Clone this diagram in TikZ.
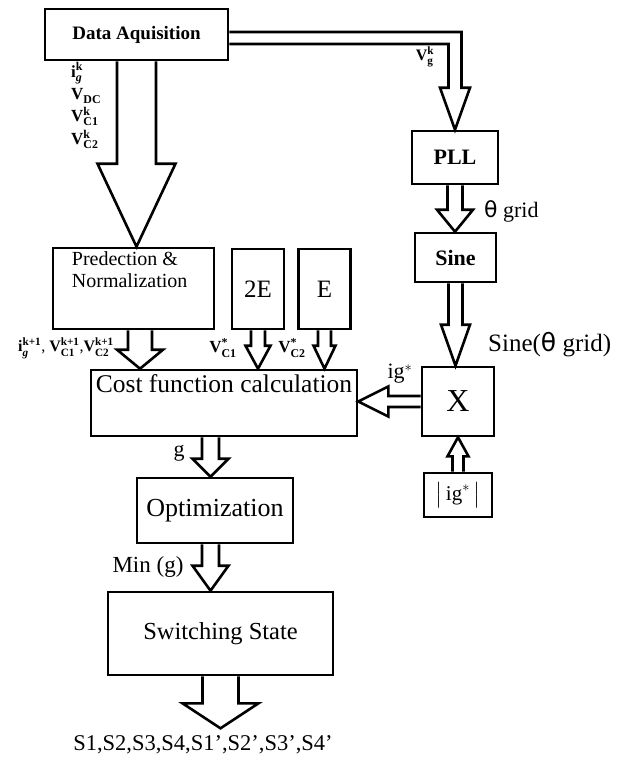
\documentclass[tikz,border=0pt]{standalone}
\usepackage{amsmath}
\usepackage{fontspec}
\setmainfont{Liberation Serif}
\newfontfamily\thetafont{DejaVu Sans}
\usetikzlibrary{calc}

% hollow block arrow: start, tip, half shaft, half head, head length
\newcommand{\hollowarrow}[5]{%
  \coordinate (hb) at ($(#2)!#5!(#1)$);
  \draw[blockarrow] ($(#1)!#3!90:(#2)$) -- ($(hb)!#3!90:(#2)$) -- ($(hb)!#4!90:(#2)$)
    -- (#2) -- ($(hb)!#4!-90:(#2)$) -- ($(hb)!#3!-90:(#2)$) -- ($(#1)!#3!-90:(#2)$);
}
\newcommand{\sig}[3]{$\textbf{#1}_{\textbf{#2}}^{\textbf{#3}}$}

\begin{document}
\begin{tikzpicture}[x=1pt,y=-1pt,
  box/.style={draw,line width=2.6pt,inner sep=0pt},
  blockarrow/.style={draw,line width=2.6pt,line join=miter},
  tag/.style={inner sep=0pt}]
\useasboundingbox (0,0) rectangle (635,763);

% blocks
\node[box,minimum width=183pt,minimum height=51pt,font=\bfseries\fontsize{19}{21}\selectfont] (acq) at (136.5,34.5) {Data Aquisition};
\node[box,minimum width=161pt,minimum height=81pt,
  label={[tag,anchor=north west,align=left,xshift=20pt,yshift=-5pt,font=\fontsize{20}{22}\selectfont]north west:{Predection \&\\Normalization}}] (pred) at (133.5,288.5) {};
\foreach \n/\x/\lab in {twoE/258/2E,oneE/324.5/E}
  \node[box,minimum width=52pt,minimum height=80pt,font=\fontsize{25}{27}\selectfont] (\n) at (\x,289) {\lab};
\node[box,minimum width=266pt,minimum height=66pt,
  label={[tag,anchor=base,yshift=-24pt,font=\fontsize{25.5}{28}\selectfont]north:{Cost function calculation}}] (cost) at (224,403) {};
\node[box,minimum width=156pt,minimum height=65pt,font=\fontsize{26}{28}\selectfont] (opt) at (215,510.5) {Optimization};
\node[box,minimum width=225pt,minimum height=83pt,font=\fontsize{24.5}{27}\selectfont] (sw) at (220.5,633.5) {Switching State};
\node[tag,font=\fontsize{22.5}{25}\selectfont] (out) at (203,745) {S1,S2,S3,S4,S1',S2',S3',S4'};

\node[box,minimum width=86pt,minimum height=53pt,font=\bfseries\fontsize{22}{24}\selectfont] (pll) at (455,157.5) {PLL};
\node[box,minimum width=81pt,minimum height=49pt,font=\bfseries\fontsize{22}{24}\selectfont] (sine) at (455.5,257.5) {Sine};
\node[box,minimum width=72pt,minimum height=69pt,font=\fontsize{32}{34}\selectfont] (mult) at (458,401.5) {X};
\node[box,minimum width=68pt,minimum height=44pt,font=\fontsize{21}{23}\selectfont] (absig) at (458,495) {$\bigl|\,\mathrm{ig}^{*}\,\bigr|$};

% signal names
\node[tag,anchor=north west,align=left,font=\fontsize{17}{22}\selectfont] (acqout) at (71,62)
  {\sig{i}{\textit{g}}{k}\\\sig{V}{DC}{}\\\sig{V}{C1}{k}\\[1pt]\sig{V}{C2}{k}};
\node[tag,font=\fontsize{16}{18}\selectfont] (vg) at (425,57) {\sig{V}{g}{k}};
\node[tag,anchor=west,font=\fontsize{22}{24}\selectfont] (thgrid) at (484,211) {{\thetafont θ} grid};
\node[tag,anchor=west,font=\fontsize{25}{27}\selectfont] (sinelbl) at (488,345) {Sine({\thetafont θ} grid)};
\node[tag,font=\fontsize{22}{24}\selectfont] (iglbl) at (400,374) {ig$^{*}$};
\node[tag,anchor=east,font=\fontsize{16}{18}\selectfont] (predout) at (114,348)
  {\sig{i}{\textit{g}}{k+1}, \sig{V}{C1}{k+1},\sig{V}{C2}{k+1}};
\node[tag,font=\fontsize{17}{18}\selectfont] (vc1) at (223,348) {\sig{V}{C1}{*}};
\node[tag,font=\fontsize{17}{18}\selectfont] (vc2) at (292,348) {\sig{V}{C2}{*}};
\node[tag,font=\fontsize{22}{24}\selectfont] (glbl) at (179,453) {g};
\node[tag,font=\fontsize{23}{25}\selectfont] (minlbl) at (148,567) {Min (g)};

% arrows
\hollowarrow{acq.south}{acq.south |- pred.north}{19.5pt}{39pt}{83pt}
\coordinate (p0) at ($(pred.south)+(6.5,0)$);
\hollowarrow{p0}{p0 |- cost.north}{12pt}{23pt}{19pt}
\hollowarrow{twoE.south}{twoE.south |- cost.north}{7pt}{12.5pt}{23pt}
\hollowarrow{oneE.south}{oneE.south |- cost.north}{6.5pt}{11pt}{23pt}
\coordinate (c0) at ($(cost.south)+(-13.5,0)$);
\hollowarrow{c0}{c0 |- opt.north}{8.5pt}{18pt}{18pt}
\coordinate (o0) at ($(opt.south)+(-4.5,0)$);
\hollowarrow{o0}{o0 |- sw.north}{8.5pt}{18pt}{25pt}
\coordinate (swtip) at ($(sw.south)+(0,52)$);
\hollowarrow{sw.south}{swtip}{18pt}{38pt}{25pt}
\hollowarrow{pll.south}{pll.south |- sine.north}{7.5pt}{18pt}{22pt}
\hollowarrow{sine.south}{sine.south |- mult.north}{7pt}{14.5pt}{41pt}
\hollowarrow{absig.north}{absig.north |- mult.south}{5.5pt}{10.5pt}{19pt}
\hollowarrow{mult.west}{mult.west -| cost.east}{5.5pt}{15pt}{30pt}
\coordinate (vg0) at ($(acq.east)+(0,3.5)$);
\draw[blockarrow] let \p1=(vg0), \p2=(pll.north) in
  (\x1,\y1-6pt) -- (\x2-6.5pt,\y1-6pt) -- (\x2-6.5pt,\y2+42pt) -- (\x2-15pt,\y2+42pt)
  -- (\x2,\y2) -- (\x2+15pt,\y2+42pt) -- (\x2+6.5pt,\y2+42pt) -- (\x2+6.5pt,\y1+6pt) -- (\x1,\y1+6pt);
\end{tikzpicture}
\end{document}
